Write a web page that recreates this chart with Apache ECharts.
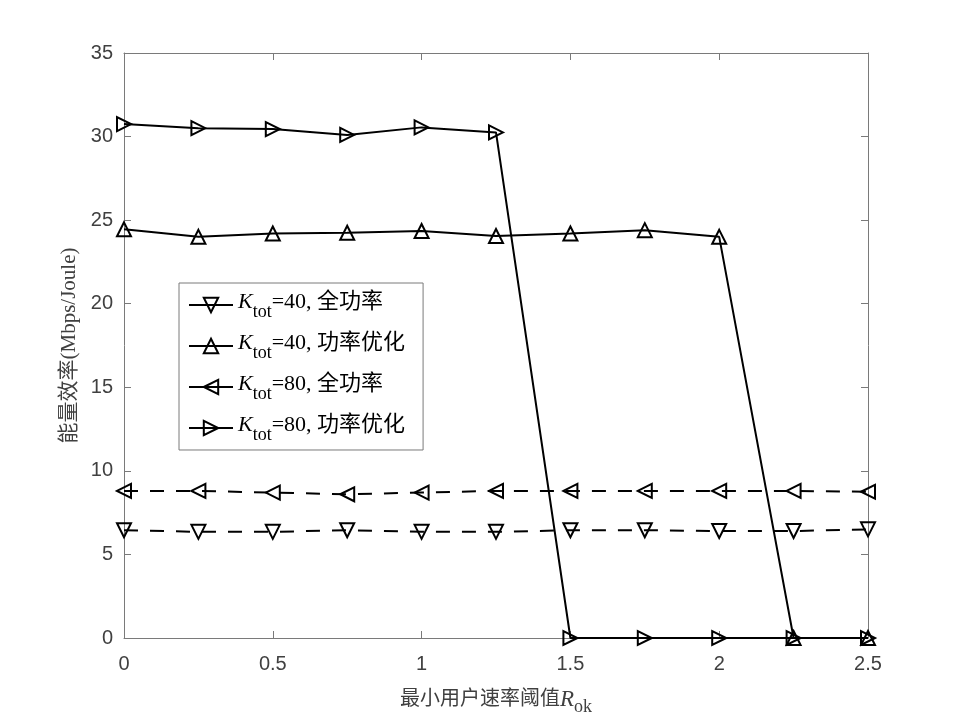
<!DOCTYPE html>
<html>
<head>
<meta charset="utf-8">
<script src="https://cdn.jsdelivr.net/npm/echarts@6/dist/echarts.min.js"></script>
<style>
  html, body { margin: 0; padding: 0; background: #fff; }
  #chart { width: 960px; height: 719px; }
</style>
</head>
<body>
<div id="chart"></div>
<script>
// 横轴：最小用户速率阈值
var rateList = [0, 0.25, 0.5, 0.75, 1, 1.25, 1.5, 1.75, 2, 2.25, 2.5];
// 各曲线能量效率 (Mbps/Joule)
var k40FullList = [6.45, 6.35, 6.35, 6.45, 6.35, 6.35, 6.45, 6.45, 6.4, 6.4, 6.5];
var k40OptList = [24.45, 24.0, 24.2, 24.25, 24.35, 24.05, 24.2, 24.4, 24.0, 0, 0];
var k80FullList = [8.8, 8.8, 8.7, 8.6, 8.7, 8.8, 8.8, 8.8, 8.8, 8.8, 8.75];
var k80OptList = [30.75, 30.5, 30.45, 30.1, 30.55, 30.25, 0, 0, 0, 0, 0];
var seriesNames = ["k40Full", "k40Opt", "k80Full", "k80Opt"];
var legendLabels = {
  k40Full: "=40, 全功率",
  k40Opt: "=40, 功率优化",
  k80Full: "=80, 全功率",
  k80Opt: "=80, 功率优化",
};

var serifFont = "'Liberation Serif', 'Noto Sans CJK SC', serif";
var axisColor = "#7a7a7a";
var labelColor = "#404040";

function toPairs(list) {
  return list.map(function (v, i) {
    return [rateList[i], v];
  });
}

function makeLine(name, list, dashed, rotate) {
  return {
    name: name,
    type: "line",
    data: toPairs(list),
    symbol: "triangle",
    symbolSize: 14,
    symbolRotate: rotate,
    animation: false,
    lineStyle: { color: "#000", width: 2, type: dashed ? [14, 12] : "solid" },
    itemStyle: { color: "rgba(255,255,255,0)", borderColor: "#000", borderWidth: 2 },
    emphasis: { disabled: true },
  };
}

// 外框刻度轴（上、右），不显示标签
var boxAxisStyle = {
  axisLine: { show: true, onZero: false, lineStyle: { color: axisColor, width: 1 } },
  axisTick: { show: true, inside: true, length: 7, lineStyle: { color: axisColor } },
  axisLabel: { show: false },
  splitLine: { show: false },
};

var chart = echarts.init(document.getElementById("chart"));
var option = {
  backgroundColor: "#fff",
  grid: { left: 124, top: 53, right: 92, bottom: 81, outerBoundsMode: "none", containLabel: false },
  legend: {
    orient: "vertical",
    left: 179,
    top: 283,
    padding: [6, 18, 6, 9],
    itemGap: 9,
    itemWidth: 44,
    itemHeight: 18,
    backgroundColor: "#fff",
    borderColor: axisColor,
    borderWidth: 1,
    borderRadius: 0,
    selectedMode: false,
    lineStyle: { type: "solid" },
    data: seriesNames,
    formatter: function (name) {
      return "{k|K}{s|tot}{n|" + legendLabels[name] + "}";
    },
    textStyle: {
      rich: {
        k: { fontFamily: serifFont, fontStyle: "italic", fontSize: 22, color: "#000", lineHeight: 35, padding: [0, 0, 6, 0] },
        s: { fontFamily: serifFont, fontSize: 18, color: "#000", lineHeight: 35, padding: [14, 0, 0, 0] },
        n: { fontFamily: serifFont, fontSize: 22, color: "#000", lineHeight: 35, padding: [0, 0, 6, 0] },
      },
    },
  },
  xAxis: [
    {
      type: "value",
      min: 0,
      max: 2.5,
      interval: 0.5,
      name: "{t|最小用户速率阈值}{r|R}{o|ok}",
      nameLocation: "middle",
      nameGap: 45,
      nameTextStyle: {
        rich: {
          t: { fontFamily: serifFont, fontSize: 20, color: labelColor },
          r: { fontFamily: serifFont, fontSize: 23, fontStyle: "italic", color: labelColor },
          o: { fontFamily: serifFont, fontSize: 18, color: labelColor, padding: [15, 0, 0, 0] },
        },
      },
      axisLine: { onZero: false, lineStyle: { color: axisColor, width: 1 } },
      axisTick: { inside: true, length: 7, lineStyle: { color: axisColor } },
      axisLabel: { color: labelColor, fontFamily: "'Liberation Sans', Arial", fontSize: 20, margin: 16 },
      splitLine: { show: false },
    },
    Object.assign({ type: "value", position: "top", min: 0, max: 2.5, interval: 0.5 }, boxAxisStyle),
  ],
  yAxis: [
    {
      type: "value",
      min: 0,
      max: 35,
      interval: 5,
      name: "能量效率(Mbps/Joule)",
      nameLocation: "middle",
      nameGap: 42,
      nameTextStyle: { fontFamily: serifFont, fontSize: 21, color: labelColor },
      axisLine: { show: true, onZero: false, lineStyle: { color: axisColor, width: 1 } },
      axisTick: { show: true, inside: true, length: 7, lineStyle: { color: axisColor } },
      axisLabel: { color: labelColor, fontFamily: "'Liberation Sans', Arial", fontSize: 20, margin: 11 },
      splitLine: { show: false },
    },
    Object.assign({ type: "value", position: "right", min: 0, max: 35, interval: 5 }, boxAxisStyle),
  ],
  series: [
    makeLine("k40Full", k40FullList, true, 180),
    makeLine("k40Opt", k40OptList, false, 0),
    makeLine("k80Full", k80FullList, true, 90),
    makeLine("k80Opt", k80OptList, false, -90),
  ],
};
chart.setOption(option);
</script>
</body>
</html>
